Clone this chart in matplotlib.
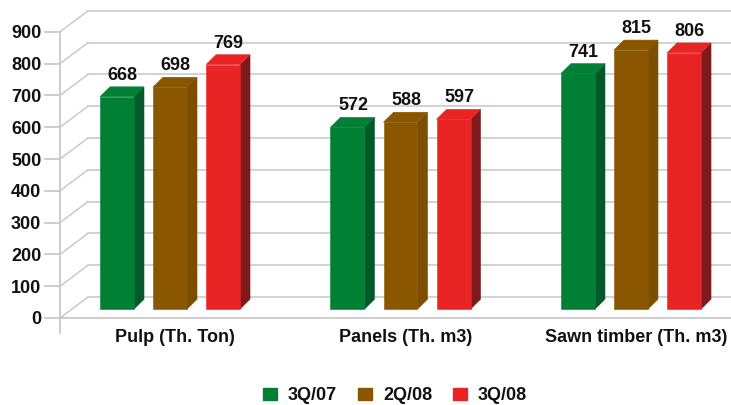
import numpy as np
import matplotlib
matplotlib.use('Agg')
import matplotlib.pyplot as plt
from matplotlib.patches import Patch

categories = ['Pulp (Th. Ton)', 'Panels (Th. m3)', 'Sawn timber (Th. m3)']
series_names = ['3Q/07', '2Q/08', '3Q/08']
values_3q07 = [668, 572, 741]
values_2q08 = [698, 588, 815]
values_3q08 = [769, 597, 806]
y_ticks = [0, 100, 200, 300, 400, 500, 600, 700, 800, 900]

front_colors = ['#018035', '#8a5700', '#e82425']
side_colors = ['#03592a', '#7c4e00', '#7f1a1c']
grid_color = '#c6c6c6'

plt.rcParams['font.family'] = ['Liberation Sans', 'DejaVu Sans']
plt.rcParams['font.weight'] = 'bold'

# 3D look, everything in data units (x: groups, y: chart values)
bar_w = 0.1475
bar_step = 0.23
bar_dx = 0.0434
bar_dy = 31
bar_base = 28
wall_dx = 0.1215
wall_dy = 66


def draw_bar(ax, x0, value, front, side):
    x1 = x0 + bar_w
    top = value + bar_base
    ax.fill([x1, x1 + bar_dx, x1 + bar_dx, x1],
            [bar_base, bar_base + bar_dy, top + bar_dy, top],
            facecolor=side, edgecolor=side, lw=0.4, zorder=3)
    ax.fill([x0, x1, x1 + bar_dx, x0 + bar_dx],
            [top, top, top + bar_dy, top + bar_dy],
            facecolor=front, edgecolor=front, lw=0.4, zorder=3)
    ax.bar(x0, value, width=bar_w, bottom=bar_base, align='edge',
           facecolor=front, edgecolor=front, lw=0.4, zorder=3)
    ax.text(x0 + bar_w / 2 + 0.024, top + bar_dy + 36, str(value), ha='center', va='center',
            fontsize=13, fontweight='bold', color='#111111', zorder=4)


def main():
    fig = plt.figure(figsize=(7.31, 4.05), dpi=100)
    ax = fig.add_axes([60 / 731, (405 - 318) / 405, 671 / 731, 308 / 405])
    ax.set_xlim(-110 / 230.5, 561 / 230.5)
    ax.set_ylim(0, 968.6)

    # back wall and the diagonals joining it to the front axis
    for t in y_ticks:
        ax.plot([-110 / 230.5 + wall_dx, 561 / 230.5], [t + wall_dy, t + wall_dy],
                color=grid_color, lw=1.1, zorder=1)
        ax.plot([-110 / 230.5, -110 / 230.5 + wall_dx], [t, t + wall_dy],
                color=grid_color, lw=1.0, zorder=1)

    all_values = [values_3q07, values_2q08, values_3q08]
    for s, vals in enumerate(all_values):
        for g, v in enumerate(vals):
            x0 = g - bar_w / 2 + (s - 1) * bar_step
            draw_bar(ax, x0, v, front_colors[s], side_colors[s])

    for name in ['top', 'right']:
        ax.spines[name].set_visible(False)
    for name in ['left', 'bottom']:
        ax.spines[name].set_color(grid_color)
        ax.spines[name].set_linewidth(1.2)
    ax.spines['left'].set_bounds(0, 900)
    ax.plot([-110 / 230.5, -110 / 230.5], [0, -47], color=grid_color, lw=1.2, clip_on=False)

    ax.set_yticks(y_ticks)
    ax.tick_params(axis='y', length=11.5, width=1.2, color=grid_color, pad=2, labelsize=13,
                   labelcolor='#111111')
    ax.set_xticks(np.arange(len(categories)) + 0.022)
    ax.set_xticklabels(categories)
    ax.tick_params(axis='x', length=0, pad=8, labelsize=13, labelcolor='#111111')

    handles = [Patch(color=c, label=n) for c, n in zip(front_colors, series_names)]
    fig.legend(handles=handles, loc='center', bbox_to_anchor=(395 / 731, (405 - 396) / 405),
               ncol=3, frameon=False, fontsize=13, handlelength=0.78, handleheight=0.67,
               handletextpad=0.6, columnspacing=1.16, labelcolor='#111111')

    fig.savefig('out.png', dpi=100)


if __name__ == '__main__':
    main()
